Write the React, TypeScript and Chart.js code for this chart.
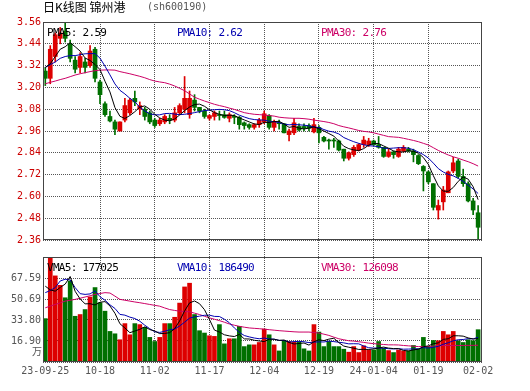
import React, { useEffect, useRef } from 'react';
import { Chart, registerables } from 'chart.js';
Chart.register(...registerables);

const opens = [3.29, 3.25, 3.37, 3.47, 3.51, 3.44, 3.35, 3.31, 3.34, 3.32,
  3.41, 3.23, 3.11, 3.04, 3.01, 2.96, 3.02, 3.06, 3.14, 3.08,
  3.08, 3.06, 3.02, 3.00, 3.01, 3.03, 3.02, 3.06, 3.08, 3.05,
  3.13, 3.09, 3.07, 3.03, 3.04, 3.05, 3.05, 3.03, 3.04, 3.035,
  3.005, 2.995, 2.98, 2.995, 3.01, 3.045, 2.98, 3.005, 3.00, 2.94,
  2.95, 2.985, 2.985, 2.99, 2.955, 2.98, 2.925, 2.91, 2.91, 2.905,
  2.86, 2.81, 2.83, 2.855, 2.885, 2.885, 2.905, 2.885, 2.87, 2.82,
  2.845, 2.82, 2.85, 2.86, 2.85, 2.825, 2.765, 2.735, 2.67, 2.525,
  2.57, 2.62, 2.74, 2.795, 2.71, 2.67, 2.575, 2.51];
const closes = [3.25, 3.41, 3.49, 3.50, 3.47, 3.36, 3.30, 3.37, 3.31, 3.40,
  3.25, 3.16, 3.05, 3.015, 2.97, 3.01, 3.10, 3.13, 3.12, 3.10,
  3.04, 3.01, 2.99, 3.02, 3.04, 3.02, 3.06, 3.10, 3.14, 3.14,
  3.09, 3.07, 3.04, 3.045, 3.06, 3.045, 3.035, 3.05, 3.035, 2.995,
  2.99, 2.98, 2.995, 3.02, 3.055, 2.98, 3.01, 3.00, 2.95, 2.96,
  3.005, 2.965, 2.975, 2.975, 2.995, 2.95, 2.905, 2.905, 2.905, 2.855,
  2.81, 2.84, 2.87, 2.885, 2.91, 2.905, 2.885, 2.87, 2.82, 2.845,
  2.83, 2.86, 2.87, 2.85, 2.83, 2.78, 2.74, 2.68, 2.54, 2.55,
  2.635, 2.735, 2.785, 2.71, 2.67, 2.575, 2.525, 2.43];
const highs = [3.31, 3.43, 3.50, 3.53, 3.56, 3.46, 3.37, 3.39, 3.36, 3.43,
  3.42, 3.24, 3.12, 3.07, 3.02, 3.01, 3.14, 3.14, 3.18, 3.12,
  3.09, 3.07, 3.03, 3.03, 3.05, 3.05, 3.09, 3.11, 3.26, 3.18,
  3.16, 3.09, 3.08, 3.05, 3.07, 3.07, 3.07, 3.06, 3.05, 3.04,
  3.01, 3.00, 3.00, 3.03, 3.07, 3.05, 3.02, 3.02, 3.00, 2.97,
  3.03, 3.00, 3.00, 3.00, 3.03, 2.99, 2.93, 2.915, 2.92, 2.91,
  2.86, 2.845, 2.88, 2.89, 2.93, 2.92, 2.91, 2.93, 2.87, 2.86,
  2.85, 2.87, 2.88, 2.87, 2.86, 2.83, 2.77, 2.74, 2.67, 2.58,
  2.655, 2.74, 2.815, 2.805, 2.75, 2.68, 2.59, 2.55];
const lows = [3.21, 3.22, 3.34, 3.44, 3.45, 3.34, 3.28, 3.28, 3.28, 3.31,
  3.23, 3.11, 3.04, 3.01, 2.94, 2.96, 3.01, 3.05, 3.10, 3.05,
  3.02, 3.00, 2.98, 2.99, 3.00, 3.00, 3.01, 3.05, 3.06, 3.03,
  3.07, 3.06, 3.03, 3.02, 3.02, 3.02, 3.03, 3.01, 3.00, 2.97,
  2.97, 2.97, 2.97, 2.98, 3.00, 2.97, 2.96, 2.97, 2.95, 2.905,
  2.94, 2.96, 2.96, 2.96, 2.95, 2.895, 2.90, 2.86, 2.87, 2.85,
  2.795, 2.80, 2.82, 2.85, 2.87, 2.875, 2.88, 2.865, 2.815, 2.815,
  2.81, 2.815, 2.845, 2.845, 2.79, 2.775, 2.63, 2.67, 2.525, 2.475,
  2.525, 2.62, 2.73, 2.70, 2.655, 2.57, 2.50, 2.36];
const ma5 = [3.31, 3.33, 3.37, 3.41, 3.424, 3.446, 3.424, 3.40, 3.362, 3.348,
  3.326, 3.298, 3.234, 3.175, 3.089, 3.041, 3.029, 3.045, 3.066, 3.092,
  3.098, 3.08, 3.052, 3.032, 3.02, 3.016, 3.026, 3.048, 3.072, 3.092,
  3.106, 3.108, 3.096, 3.077, 3.061, 3.052, 3.045, 3.047, 3.045, 3.032,
  3.021, 3.01, 2.999, 2.996, 3.008, 3.006, 3.012, 3.013, 2.999, 2.98,
  2.985, 2.976, 2.971, 2.976, 2.983, 2.972, 2.96, 2.946, 2.932, 2.904,
  2.876, 2.863, 2.856, 2.852, 2.863, 2.882, 2.891, 2.891, 2.878, 2.865,
  2.85, 2.845, 2.845, 2.851, 2.848, 2.838, 2.814, 2.776, 2.714, 2.658,
  2.629, 2.628, 2.649, 2.683, 2.707, 2.695, 2.653, 2.582];
const ma10 = [3.31, 3.325, 3.34, 3.36, 3.37, 3.375, 3.375, 3.38, 3.385, 3.386,
  3.386, 3.361, 3.317, 3.269, 3.219, 3.184, 3.164, 3.14, 3.121, 3.091,
  3.07, 3.055, 3.049, 3.049, 3.056, 3.057, 3.053, 3.05, 3.052, 3.056,
  3.061, 3.067, 3.072, 3.075, 3.077, 3.079, 3.077, 3.072, 3.061, 3.047,
  3.037, 3.028, 3.023, 3.021, 3.02, 3.014, 3.011, 3.006, 2.998, 2.994,
  2.996, 2.994, 2.992, 2.988, 2.982, 2.979, 2.968, 2.959, 2.954, 2.944,
  2.924, 2.912, 2.901, 2.892, 2.884, 2.879, 2.877, 2.874, 2.865, 2.864,
  2.866, 2.868, 2.868, 2.865, 2.857, 2.844, 2.83, 2.811, 2.783, 2.753,
  2.734, 2.721, 2.713, 2.699, 2.683, 2.662, 2.641, 2.616];
const ma30 = [3.22, 3.228, 3.235, 3.243, 3.25, 3.259, 3.268, 3.275, 3.281, 3.287,
  3.292, 3.295, 3.296, 3.296, 3.295, 3.287, 3.281, 3.275, 3.268, 3.261,
  3.253, 3.243, 3.235, 3.23, 3.226, 3.218, 3.208, 3.195, 3.182, 3.164,
  3.146, 3.135, 3.125, 3.116, 3.107, 3.10, 3.094, 3.086, 3.079, 3.07,
  3.061, 3.056, 3.052, 3.05, 3.048, 3.045, 3.042, 3.036, 3.033, 3.031,
  3.03, 3.03, 3.028, 3.025, 3.02, 3.016, 3.012, 3.007, 3.0, 2.99,
  2.983, 2.977, 2.97, 2.963, 2.958, 2.955, 2.95, 2.943, 2.936, 2.929,
  2.927, 2.925, 2.92, 2.914, 2.908, 2.901, 2.892, 2.883, 2.868, 2.853,
  2.84, 2.828, 2.818, 2.81, 2.80, 2.791, 2.78, 2.767];
const volumes = [34.9, 96, 69.3, 61.7, 51.7, 65.2, 36.8, 38.2, 42.2, 52.3,
  59.9, 47.7, 40.9, 24.6, 22.7, 17.9, 30.9, 21.9, 30.9, 30.1,
  27.9, 19.8, 16.5, 19.8, 30.9, 30.9, 36.0, 47.4, 60.4, 63.4,
  38.2, 25.2, 23.3, 21.1, 20.6, 30.1, 14.6, 18.7, 18.7, 28.7,
  12.4, 13.8, 13.8, 15.7, 26.5, 21.9, 13.8, 8.9, 17.3, 16.5,
  16.0, 16.0, 10.6, 8.9, 30.1, 24.1, 12.4, 16.5, 12.4, 12.4,
  10.3, 7.9, 12.4, 7.6, 13.0, 9.7, 9.7, 16.5, 11.1, 9.2,
  7.6, 9.7, 8.9, 8.9, 13.3, 10.6, 19.8, 12.4, 17.3, 17.1,
  24.6, 21.9, 24.6, 17.1, 15.7, 17.9, 17.1, 26.0];
const vma5 = [61, 58, 57, 60, 62.7, 68.8, 56.9, 50.7, 46.8, 46.9,
  45.9, 48.1, 48.6, 45.1, 39.2, 30.8, 27.4, 23.6, 24.9, 26.3,
  28.3, 26.1, 25.0, 22.8, 23.0, 23.6, 26.8, 33.0, 41.1, 47.6,
  49.1, 46.9, 42.1, 34.2, 25.7, 24.1, 21.9, 21.0, 20.5, 22.2,
  18.6, 18.5, 17.5, 16.9, 16.4, 18.3, 18.3, 17.4, 17.7, 15.7,
  14.5, 14.9, 15.3, 13.6, 16.3, 17.9, 17.2, 18.4, 19.1, 15.6,
  12.8, 11.9, 11.1, 10.1, 10.2, 10.1, 10.5, 11.3, 12.0, 11.2,
  10.8, 10.8, 9.3, 8.9, 9.7, 10.3, 12.3, 13.0, 14.7, 15.4,
  18.2, 18.7, 21.1, 21.1, 20.8, 19.4, 18.5, 18.8];
const vma10 = [55.8, 57.5, 59.9, 65.2, 66.6, 66, 59.9, 55, 54.4, 54.8,
  57.3, 52.5, 49.7, 46.0, 43.1, 38.3, 37.7, 36.1, 35.0, 32.8,
  29.6, 26.8, 24.3, 23.8, 24.7, 26.0, 26.5, 29.0, 32.0, 35.3,
  36.3, 36.9, 37.6, 37.7, 36.7, 36.6, 34.4, 31.6, 27.4, 23.9,
  21.3, 20.2, 19.3, 18.7, 19.3, 18.5, 18.4, 17.4, 17.3, 16.1,
  16.4, 16.6, 16.3, 15.6, 16.0, 16.2, 16.1, 16.8, 16.4, 15.9,
  15.4, 14.6, 14.7, 14.6, 12.9, 11.5, 11.2, 11.2, 11.1, 10.7,
  10.5, 10.7, 10.3, 10.4, 10.5, 10.6, 11.6, 11.2, 11.8, 12.6,
  14.3, 15.5, 17.1, 17.9, 18.1, 18.8, 18.6, 19.9];
const vma30 = [43.6, 45, 46.3, 47.6, 49, 49.7, 50.4, 51.3, 52.3, 53.3,
  54.4, 55.1, 55.8, 55.5, 53, 50.4, 49.7, 49, 48.3, 47.7,
  47, 46.3, 45.6, 44.9, 43.5, 42.2, 41.5, 40.9, 40.6, 40.4,
  39.3, 38.2, 36.8, 35.5, 34.4, 33.3, 32, 30.6, 29.6, 28.7,
  28, 27.4, 27.1, 26.8, 26.4, 26, 25.6, 25.2, 24.9, 24.6,
  24.3, 24.1, 24.1, 24.1, 23.7, 23.3, 22.4, 21.4, 20, 18.7,
  17.9, 17.1, 16.8, 16.3, 15.8, 15.2, 14.8, 14.4, 14.1, 13.8,
  13.8, 13.7, 13.3, 13, 12.7, 12.4, 12.4, 12.4, 12.8, 13.3,
  13.3, 13.3, 13.3, 13.3, 13.3, 13.4, 13.4, 13.5];

const priceTicks = [3.56, 3.44, 3.32, 3.20, 3.08, 2.96, 2.84, 2.72, 2.60, 2.48, 2.36];
const volumeTicks = [0, 16.90, 33.80, 50.69, 67.59, 84.49];
const volumeTickLabels = ['', '16.90', '33.80', '50.69', '67.59', ''];
const xTickIndex = [0, 11, 22, 33, 44, 55, 66, 77, 87];
const xTickLabels = ['23-09-25', '10-18', '11-02', '11-17', '12-04', '12-19', '24-01-04', '01-19', '02-02'];

const RED = '#dd0000';
const GREEN = '#007000';
const BLUE = '#0000b0';
const MAGENTA = '#cc0066';
const GRID = '#555555';
const MONO = 'DejaVu Sans Mono';

const panelBorder = {
  id: 'panelBorder',
  afterDraw(chart: any) {
    const { ctx, chartArea } = chart;
    ctx.save();
    ctx.strokeStyle = '#444444';
    ctx.lineWidth = 1;
    [chart.scales.y, chart.scales.yv].forEach((s: any) => {
      ctx.strokeRect(chartArea.left + 0.5, s.top + 0.5, chartArea.right - chartArea.left - 1, s.bottom - s.top - 1);
    });
    ctx.restore();
  },
};

export default function App() {
  const ref = useRef<HTMLCanvasElement>(null);
  useEffect(() => {
    const idx = closes.map((_, i) => i);
    const colors = idx.map((i) => (closes[i] >= opens[i] ? RED : GREEN));
    const fit43 = (scale: any) => { scale.width = 43; };
    const line = (label: string, arr: number[], color: string, axis: string) => ({
      type: 'line' as const,
      label,
      data: idx.map((i) => ({ x: i, y: arr[i] })),
      borderColor: color,
      borderWidth: 1,
      pointRadius: 0,
      tension: 0,
      yAxisID: axis,
      order: 0,
    });
    const chart = new Chart(ref.current as HTMLCanvasElement, {
      type: 'bar',
      data: {
        datasets: [
          line('PMA5', ma5, '#000000', 'y'),
          line('PMA10', ma10, BLUE, 'y'),
          line('PMA30', ma30, MAGENTA, 'y'),
          line('VMA5', vma5, '#000000', 'yv'),
          line('VMA10', vma10, BLUE, 'yv'),
          line('VMA30', vma30, MAGENTA, 'yv'),
          {
            type: 'bar', label: 'body',
            data: idx.map((i) => ({ x: i, y: [Math.min(opens[i], closes[i]), Math.max(opens[i], closes[i])] })),
            backgroundColor: colors, barThickness: 4, minBarLength: 1, grouped: false, yAxisID: 'y', order: 1,
          },
          {
            type: 'bar', label: 'wick',
            data: idx.map((i) => ({ x: i, y: [lows[i], highs[i]] })),
            backgroundColor: colors, barThickness: 1, grouped: false, yAxisID: 'y', order: 2,
          },
          {
            type: 'bar', label: 'volume',
            data: idx.map((i) => ({ x: i, y: volumes[i] })),
            backgroundColor: colors, barThickness: 4, grouped: false, yAxisID: 'yv', order: 3,
          },
        ] as any,
      },
      options: {
        animation: false,
        responsive: false,
        maintainAspectRatio: false,
        events: [],
        layout: { padding: { top: 22, right: 48, bottom: 0, left: 0 } },
        plugins: { legend: { display: false }, tooltip: { enabled: false }, title: { display: false } },
        scales: {
          x: {
            type: 'linear', min: -0.46, max: 87.78, offset: false,
            afterBuildTicks: (s: any) => { s.ticks = xTickIndex.map((v) => ({ value: v })); },
            afterFit: (s: any) => { s.height = 29; },
            ticks: {
              autoSkip: false, maxRotation: 0, minRotation: 0, padding: 3, color: '#555555',
              font: { family: MONO, size: 10 },
              callback: (v: any) => xTickLabels[xTickIndex.indexOf(Number(v))] ?? '',
            },
            grid: {
              offset: false, drawTicks: false, lineWidth: 1,
              color: (c: any) => (c.tick && (c.tick.value === 0 || c.tick.value === 87) ? 'rgba(0,0,0,0)' : GRID),
            },
            border: { display: false, dash: [1, 1] },
          },
          yv: {
            type: 'linear', position: 'left', stack: 'panels', stackWeight: 105, min: 0, max: 84.49,
            afterBuildTicks: (s: any) => { s.ticks = volumeTicks.map((v) => ({ value: v })); },
            afterFit: fit43,
            ticks: {
              autoSkip: false, padding: 2, color: '#555555', font: { family: MONO, size: 10 },
              callback: (v: any) => volumeTickLabels[volumeTicks.indexOf(Number(v))] ?? '',
            },
            grid: { drawTicks: false, color: GRID, lineWidth: 1 },
            border: { display: false, dash: [1, 1] },
          },
          gap: {
            type: 'linear', position: 'left', stack: 'panels', stackWeight: 17,
            afterFit: fit43,
            ticks: { display: false },
            grid: { display: false, drawTicks: false },
            border: { display: false },
          },
          y: {
            type: 'linear', position: 'left', stack: 'panels', stackWeight: 218, min: 2.36, max: 3.56,
            afterBuildTicks: (s: any) => { s.ticks = priceTicks.map((v) => ({ value: v })); },
            afterFit: fit43,
            ticks: {
              autoSkip: false, padding: 2, color: '#cc0000', font: { family: MONO, size: 10 },
              callback: (v: any) => Number(v).toFixed(2),
            },
            grid: { drawTicks: false, color: GRID, lineWidth: 1 },
            border: { display: false, dash: [1, 1] },
          },
        } as any,
      },
      plugins: [panelBorder],
    });
    return () => chart.destroy();
  }, []);

  const txt = (left: number, top: number, color: string, s: string) => (
    <div style={{ position: 'absolute', left, top, color, fontFamily: MONO, fontSize: 11, lineHeight: '11px', letterSpacing: '-0.7px', whiteSpace: 'pre' }}>{s}</div>
  );

  return (
    <div style={{ position: 'absolute', left: 0, top: 0, width: 530, height: 391, background: '#ffffff', overflow: 'hidden' }}>
      <canvas ref={ref} width={530} height={391} style={{ position: 'absolute', left: 0, top: 0, width: 530, height: 391 }} />
      <div style={{ position: 'absolute', left: 43, top: 1, fontFamily: '"Noto Sans CJK SC"', fontSize: 12, lineHeight: '12px', color: '#000', whiteSpace: 'pre' }}>日K线图 锦州港</div>
      <div style={{ position: 'absolute', left: 147, top: 2, fontFamily: MONO, fontSize: 10, lineHeight: '10px', color: '#555', whiteSpace: 'pre' }}>(sh600190)</div>
      {txt(47, 26.7, '#000000', 'PMA5: 2.59')}
      {txt(177, 26.7, BLUE, 'PMA10: 2.62')}
      {txt(321, 26.7, MAGENTA, 'PMA30: 2.76')}
      {txt(47, 262, '#000000', 'VMA5: 177025')}
      {txt(177, 262, BLUE, 'VMA10: 186490')}
      {txt(321, 262, MAGENTA, 'VMA30: 126098')}
      <div style={{ position: 'absolute', left: 32, top: 346, fontFamily: '"Noto Sans CJK SC"', fontSize: 10, lineHeight: '10px', color: '#555', whiteSpace: 'pre' }}>万</div>
    </div>
  );
}
